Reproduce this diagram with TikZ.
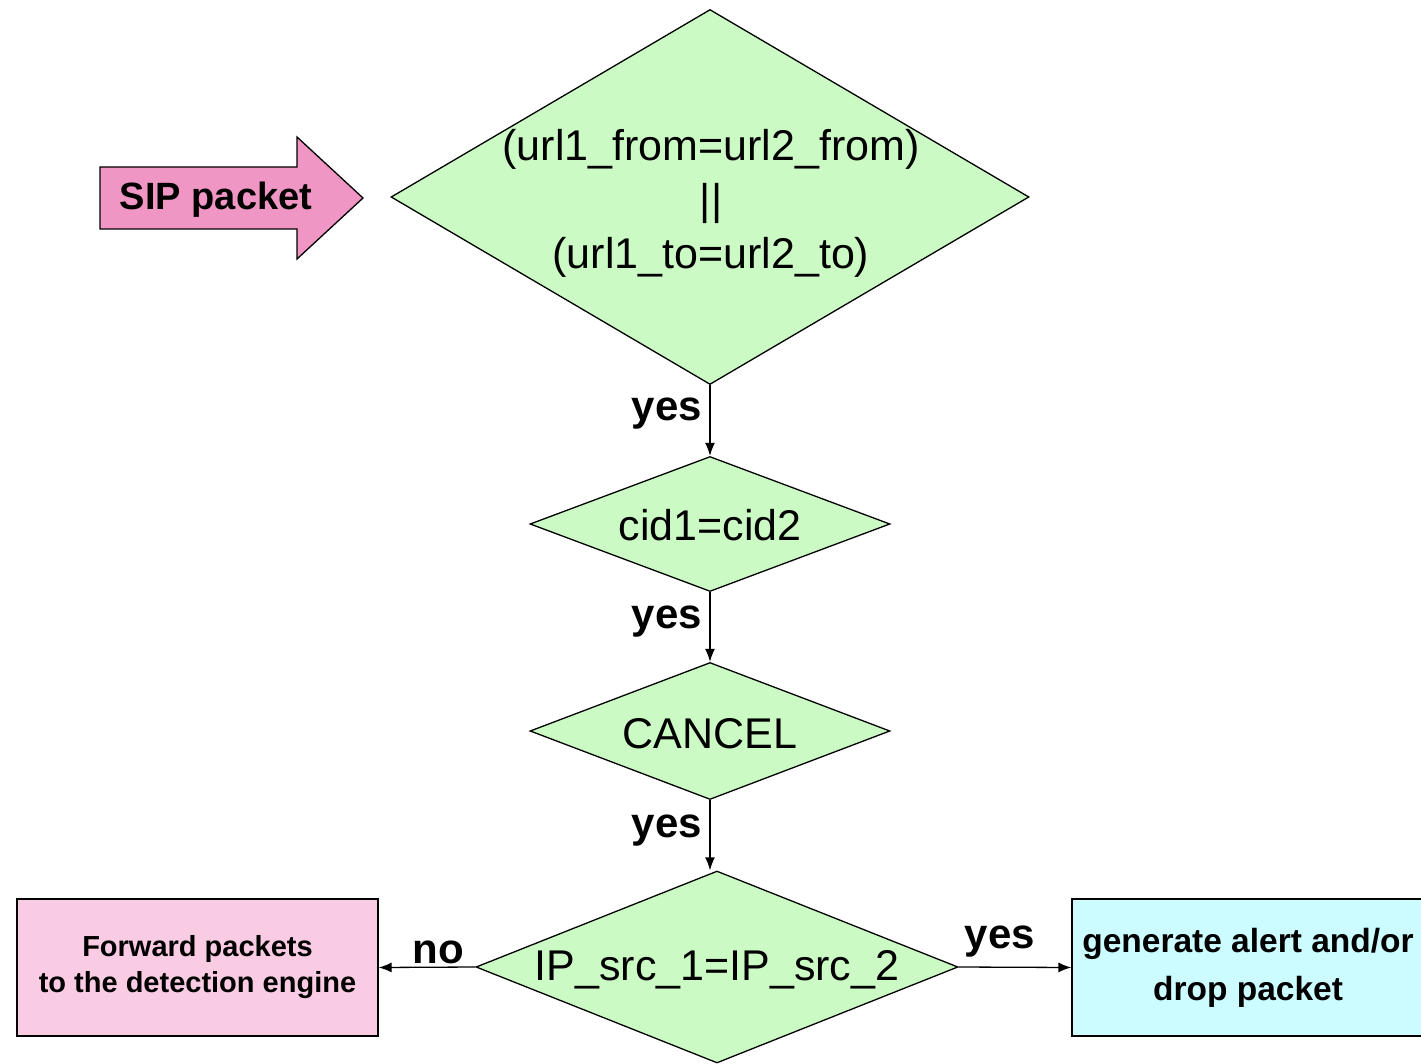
\documentclass[tikz,border=0pt]{standalone}
\usepackage{fontspec}
\setmainfont{Liberation Sans}
\usetikzlibrary{shapes.geometric,arrows.meta}
\definecolor{dgreen}{RGB}{204,250,196}
\definecolor{boxpink}{RGB}{250,204,228}
\definecolor{arrpink}{RGB}{240,150,196}
\definecolor{boxcyan}{RGB}{204,252,255}
\tikzset{
  decision/.style={diamond, draw=black, line width=1.3pt, fill=dgreen, inner sep=0pt, minimum width=#1},
  reg/.style={font=\fontsize{43}{54}\selectfont, align=center, inner sep=0pt},
  lbl/.style={font=\fontsize{42}{50}\selectfont\bfseries, inner sep=0pt},
  flow/.style={line width=1.3pt, -{Latex[length=13pt,width=10pt]}},
  outbox/.style={draw=black, line width=1.3pt, inner sep=0pt, align=center},
}
\begin{document}
\begin{tikzpicture}[x=1pt,y=-1pt]
\useasboundingbox (0,0) rectangle (1421,1064);
\fill[white] (0,0) rectangle (1421,1064);
% SIP packet arrow
\draw[line width=1.3pt, fill=arrpink] (100,167) -- (297,167) -- (297,137) -- (363,198) -- (297,259) -- (297,229) -- (100,229) -- cycle;
\node[font=\fontsize{38}{44}\selectfont\bfseries, inner sep=0pt] (sip) at (216,200) {SIP packet};
% decisions
\node[decision=638pt, minimum height=375pt] (d1) at (710,197) {};
\node[reg] (t1) at (711,203) {(url1\_from=url2\_from)\\||\\(url1\_to=url2\_to)};
\node[decision=360pt, minimum height=135pt] (d2) at (710,524) {};
\node[reg] (t2) at (710,525) {cid1=cid2};
\node[decision=360pt, minimum height=137pt] (d3) at (710,731) {};
\node[reg] (t3) at (710,734) {CANCEL};
\node[decision=482pt, minimum height=192pt] (d4) at (717,967) {};
\node[reg] (t4) at (717,970) {IP\_src\_1=IP\_src\_2};
% boxes
\node[outbox, fill=boxpink, minimum width=361pt, minimum height=137pt, font=\fontsize{29}{36}\selectfont\bfseries] (fwd) at (197.5,967.5) {Forward packets\\to the detection engine};
\node[outbox, fill=boxcyan, minimum width=353pt, minimum height=137pt] (gen) at (1248.5,967.5) {};
\node[font=\fontsize{33.5}{48}\selectfont\bfseries, align=center, inner sep=0pt] (gent) at (1248,968) {generate alert and/or\\drop packet};
% connectors
\draw[flow] (d1.south) -- (d2.north);
\draw[flow] (d2.south) -- (d3.north);
\draw[flow] (d3.south) -- (d3.south |- d4.north);
\draw[flow] (d4.west) -- (fwd.east);
\draw[flow] (d4.east) -- (gen.west);
% labels
\node[lbl] (y1) at (667,414) {yes};
\node[lbl] (y2) at (667,622) {yes};
\node[lbl] (y3) at (667,831) {yes};
\node[lbl] (no) at (438,952) {no};
\node[lbl] (y4) at (1000,942) {yes};
\end{tikzpicture}
\end{document}
